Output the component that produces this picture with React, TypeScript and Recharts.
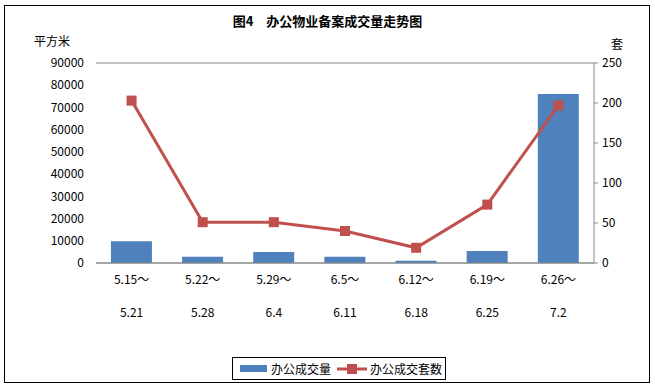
import React from "react";
import {
  ComposedChart,
  Bar,
  Line,
  XAxis,
  YAxis,
  CartesianGrid
} from "recharts";

const categories = [
  "5.15～5.21",
  "5.22～5.28",
  "5.29～6.4",
  "6.5～6.11",
  "6.12～6.18",
  "6.19～6.25",
  "6.26～7.2"
];
const areaValues = [9800, 2800, 5000, 2800, 1000, 5400, 76000];
const unitValues = [203, 51, 51, 40, 19, 73, 197];
const leftTicks = [0, 10000, 20000, 30000, 40000, 50000, 60000, 70000, 80000, 90000];
const rightTicks = [0, 50, 100, 150, 200, 250];

const data = categories.map((c, i) => ({
  name: c,
  area: areaValues[i],
  units: unitValues[i]
}));

const FONT = "'Noto Sans CJK JP', 'Noto Sans CJK SC', sans-serif";

const DateTick = (props: any) => {
  const { x, y, payload } = props;
  const [a, b] = String(payload.value).split("～");
  return (
    <g transform={`translate(${x},${y})`}>
      <text x={0} y={0} dy={13} textAnchor="middle" fontSize={12} fill="#000" fontFamily={FONT}>
        {a + "～"}
      </text>
      <text x={0} y={0} dy={46} textAnchor="middle" fontSize={12} fill="#000" fontFamily={FONT}>
        {b}
      </text>
    </g>
  );
};

const App = () => {
  return (
    <div
      style={{
        position: "absolute",
        left: 0,
        top: 0,
        width: 655,
        height: 387,
        background: "#fff",
        fontFamily: FONT
      }}
    >
      <div
        style={{
          position: "absolute",
          left: 4,
          top: 5,
          width: 644,
          height: 376,
          border: "1px solid #000"
        }}
      />
      <div
        style={{
          position: "absolute",
          left: 0,
          width: 655,
          top: 11,
          textAlign: "center",
          fontSize: 13,
          fontWeight: "bold"
        }}
      >
        图4　办公物业备案成交量走势图
      </div>
      <div style={{ position: "absolute", left: 34, top: 32, fontSize: 12 }}>平方米</div>
      <div style={{ position: "absolute", left: 611, top: 35, fontSize: 12 }}>套</div>
      <div style={{ position: "absolute", left: 0, top: 0 }}>
        <ComposedChart
          width={655}
          height={387}
          data={data}
          margin={{ top: 63, right: 21, left: 20, bottom: 64 }}
          barCategoryGap="21%"
        >
          <CartesianGrid vertical={false} stroke="#888" />
          <XAxis
            dataKey="name"
            tick={<DateTick />}
            tickLine={false}
            axisLine={{ stroke: "#888" }}
            height={60}
            interval={0}
          />
          <YAxis
            yAxisId="left"
            domain={[0, 90000]}
            ticks={leftTicks}
            width={76}
            axisLine={false}
            tickLine={false}
            tick={{ fontSize: 12, fill: "#000", fontFamily: FONT }}
            tickMargin={6}
          />
          <YAxis
            yAxisId="right"
            orientation="right"
            domain={[0, 250]}
            ticks={rightTicks}
            width={40}
            axisLine={{ stroke: "#888" }}
            tickLine={{ stroke: "#888" }}
            tickSize={4}
            tick={{ fontSize: 12, fill: "#000", fontFamily: FONT }}
            tickMargin={4}
          />
          <Bar
            yAxisId="left"
            dataKey="area"
            name="办公成交量"
            fill="#4f81bd"
            isAnimationActive={false}
          />
          <Line
            yAxisId="right"
            dataKey="units"
            name="办公成交套数"
            stroke="#c0504d"
            strokeWidth={3}
            dot={(p: any) => (
              <rect
                key={`d-${p.index}`}
                x={p.cx - 5}
                y={p.cy - 5}
                width={10}
                height={10}
                fill="#c0504d"
              />
            )}
            isAnimationActive={false}
          />
        </ComposedChart>
      </div>
      <div
        style={{
          position: "absolute",
          left: 232,
          top: 357,
          width: 214,
          height: 23,
          border: "1px solid #000",
          boxSizing: "border-box",
          display: "flex",
          alignItems: "center",
          fontSize: 12,
          background: "#fff"
        }}
      >
        <span
          style={{
            display: "inline-block",
            marginLeft: 7,
            width: 27,
            height: 7,
            background: "#4f81bd"
          }}
        />
        <span style={{ marginLeft: 4 }}>办公成交量</span>
        <svg width={30} height={12} style={{ marginLeft: 6 }}>
          <line x1={0} y1={6} x2={30} y2={6} stroke="#c0504d" strokeWidth={3} />
          <rect x={10} y={1} width={10} height={10} fill="#c0504d" />
        </svg>
        <span style={{ marginLeft: 3 }}>办公成交套数</span>
      </div>
    </div>
  );
};

export default App;
